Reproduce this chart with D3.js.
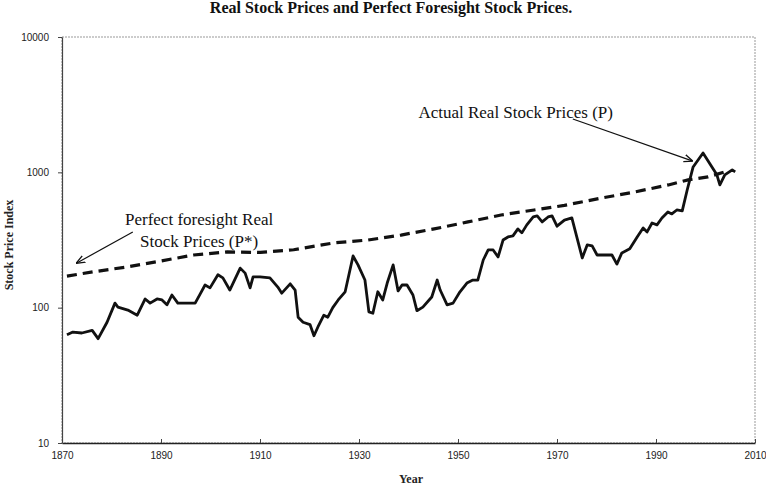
<!DOCTYPE html>
<html>
<head>
<meta charset="utf-8">
<script src="https://cdn.jsdelivr.net/npm/d3@7"></script>
<style>
    body { margin: 0; background: #fff; }
    svg { display: block; }
    .tick text { font-family: "Liberation Sans Narrow", "Liberation Sans", sans-serif; font-size: 10px; fill: #222; }
    .note { font-family: "Liberation Serif", serif; font-size: 17px; fill: #111; }
</style>
</head>
<body>
<div id="chart"></div>
<script>

    // Actual real stock prices (P)
    var pYears = [1871.0, 1872.2, 1874.0, 1876.1, 1877.3, 1879.1, 1880.7, 1881.3, 1883.3, 1885.2,
        1886.8, 1887.8, 1889.2, 1890.2, 1891.2, 1892.2, 1893.4, 1894.8, 1896.9, 1897.9,
        1898.9, 1899.9, 1901.5, 1902.5, 1903.9, 1906.0, 1907.0, 1908.0, 1908.6, 1910.0,
        1912.0, 1913.6, 1914.4, 1916.1, 1917.1, 1917.7, 1918.7, 1920.1, 1920.9, 1921.7,
        1922.9, 1923.7, 1924.7, 1925.8, 1927.2, 1928.8, 1929.8, 1931.2, 1932.0, 1932.8,
        1933.8, 1934.8, 1935.7, 1936.9, 1937.9, 1938.7, 1939.7, 1940.9, 1941.7, 1942.9,
        1944.7, 1945.8, 1946.4, 1947.8, 1949.0, 1950.4, 1951.8, 1953.0, 1954.0, 1955.1,
        1956.1, 1957.1, 1958.1, 1959.1, 1960.1, 1961.1, 1962.1, 1962.9, 1963.9, 1965.2,
        1966.0, 1967.0, 1968.2, 1969.0, 1970.0, 1971.5, 1973.0, 1975.1, 1976.1, 1977.1,
        1978.1, 1981.1, 1982.1, 1983.1, 1984.7, 1986.2, 1987.4, 1988.2, 1989.2, 1990.2,
        1991.2, 1992.4, 1993.2, 1994.2, 1995.3, 1996.3, 1997.5, 1999.5, 2001.3, 2002.3,
        2002.9, 2003.9, 2005.4, 2006.0];
    var pValues = [63, 66, 65, 68, 59, 78, 108, 101, 96, 88,
        116, 108, 116, 114, 105, 124, 108, 108, 108, 126,
        147, 140, 175, 166, 135, 196, 180, 140, 169, 169,
        166, 142, 128, 150, 135, 85, 78, 75, 62, 72,
        88, 85, 100, 114, 131, 241, 207, 160, 93, 91,
        131, 114, 152, 207, 133, 147, 147, 124, 95, 101,
        120, 160, 135, 105, 108, 131, 152, 160, 160, 225,
        267, 267, 237, 316, 333, 339, 382, 357, 409, 468,
        476, 430, 468, 476, 400, 444, 460, 233, 291, 286,
        245, 245, 210, 254, 272, 333, 388, 363, 422, 409,
        460, 510, 493, 527, 519, 741, 1096, 1391, 1096, 958,
        807, 958, 1043, 1008];

    // Perfect foresight real stock prices (P*)
    var pStarYears = [1871.0, 1876.3, 1883.2, 1889.9, 1896.6, 1903.4, 1910.1, 1916.8, 1924.9, 1931.8,
        1938.5, 1945.2, 1952.0, 1958.7, 1965.4, 1971.5, 1979.1, 1985.7, 1992.5, 1996.5,
        2000.5, 2004.6];
    var pStarValues = [171, 184, 200, 221, 245, 258, 256, 268, 301, 316,
        344, 382, 430, 484, 527, 570, 647, 716, 807, 879,
        925, 1024];

    var xTicks = [1870, 1890, 1910, 1930, 1950, 1970, 1990, 2010];
    var yTicks = [10, 100, 1000, 10000];

    var titleText = "Real Stock Prices and Perfect Foresight Stock Prices.";
    var yLabel = "Stock Price Index";
    var xLabel = "Year";

    // annotations: text anchor + arrow (from -> to), in data units
    var noteP = { text: ["Actual Real Stock Prices (P)"], year: 1981.3, value: 2520, anchor: "end",
        from: [1973.2, 2480], to: [1997.3, 1215] };
    var notePStar = { text: ["Perfect foresight Real", "Stock Prices (P*)"], year: 1897.7, value: 405, anchor: "middle",
        from: [1884.3, 362], to: [1873.0, 214] };


    var width = 766,
        height = 498;

    var x = d3.scaleLinear()
        .domain([1870, 2010])
        .range([62, 755]);

    var y = d3.scaleLog()
        .domain([10, 10000])
        .range([443, 37]);

    var svg = d3.select("#chart").append("svg")
        .attr("width", width)
        .attr("height", height);

    var defs = svg.append("defs");
    defs.append("marker")
        .attr("id", "arrow")
        .attr("viewBox", "0 0 10 10")
        .attr("refX", 9)
        .attr("refY", 5)
        .attr("markerWidth", 9)
        .attr("markerHeight", 9)
        .attr("markerUnits", "userSpaceOnUse")
        .attr("orient", "auto")
        .append("path")
        .attr("d", "M0,1 L10,5 L0,9")
        .attr("fill", "none")
        .attr("stroke", "#111")
        .attr("stroke-width", 1.5);

    //Title (sits right at the top edge like the scan)
    svg.append("text")
        .attr("x", 391)
        .attr("y", 13)
        .attr("text-anchor", "middle")
        .style("font-family", "Liberation Serif, serif")
        .style("font-size", "16px")
        .style("font-weight", "bold")
        .style("fill", "#111")
        .text(titleText);

    // Plot frame (light dotted)
    svg.append("rect")
        .attr("x", x.range()[0])
        .attr("y", y.range()[1])
        .attr("width", x.range()[1] - x.range()[0])
        .attr("height", y.range()[0] - y.range()[1])
        .attr("fill", "none")
        .attr("stroke", "#999")
        .attr("stroke-width", 1)
        .attr("stroke-dasharray", "2,1");

    //Axes
    var xAxis = svg.append("g")
        .attr("transform", "translate(0," + y.range()[0] + ")")
        .call(d3.axisBottom(x)
            .tickValues(xTicks)
            .tickFormat(d3.format("d"))
            .tickSizeInner(-4)
            .tickSizeOuter(0)
            .tickPadding(9));
    xAxis.select(".domain").attr("stroke", "#222").attr("stroke-width", 1.6);
    xAxis.selectAll(".tick line").attr("stroke", "#444");

    var yAxis = svg.append("g")
        .attr("transform", "translate(" + x.range()[0] + ",0)")
        .call(d3.axisLeft(y)
            .tickValues(yTicks)
            .tickFormat(d3.format("d"))
            .tickSizeInner(4)
            .tickSizeOuter(0)
            .tickPadding(9));
    yAxis.select(".domain").attr("stroke", "#444").attr("stroke-width", 1.2);
    yAxis.selectAll(".tick line").attr("stroke", "#444");

    // Axis titles
    svg.append("text")
        .attr("transform", "translate(13," + 245 + ") rotate(-90)")
        .attr("text-anchor", "middle")
        .style("font-family", "Liberation Serif, serif")
        .style("font-size", "12px")
        .style("font-weight", "bold")
        .style("fill", "#222")
        .text(yLabel);

    svg.append("text")
        .attr("x", 411)
        .attr("y", 483)
        .attr("text-anchor", "middle")
        .style("font-family", "Liberation Serif, serif")
        .style("font-size", "12px")
        .style("font-weight", "bold")
        .style("fill", "#222")
        .text(xLabel);

    //Lines
    var line = d3.line()
        .x(function(d) { return x(d[0]); })
        .y(function(d) { return y(d[1]); });

    svg.append("path")
        .datum(d3.zip(pStarYears, pStarValues))
        .attr("fill", "none")
        .attr("stroke", "#111")
        .attr("stroke-width", 3.2)
        .attr("stroke-dasharray", "10,6")
        .attr("d", line);

    svg.append("path")
        .datum(d3.zip(pYears, pValues))
        .attr("fill", "none")
        .attr("stroke", "#111")
        .attr("stroke-width", 2.8)
        .attr("stroke-linejoin", "round")
        .attr("d", line);

    // Annotations
    [noteP, notePStar].forEach(function(n) {
        var t = svg.append("text")
            .attr("class", "note")
            .attr("text-anchor", n.anchor)
            .attr("x", x(n.year))
            .attr("y", y(n.value));
        n.text.forEach(function(s, i) {
            t.append("tspan")
                .attr("x", x(n.year))
                .attr("dy", i === 0 ? 0 : 22)
                .text(s);
        });

        svg.append("line")
            .attr("x1", x(n.from[0]))
            .attr("y1", y(n.from[1]))
            .attr("x2", x(n.to[0]))
            .attr("y2", y(n.to[1]))
            .attr("stroke", "#111")
            .attr("stroke-width", 1.2)
            .attr("marker-end", "url(#arrow)");
    });

</script>
</body>
</html>
